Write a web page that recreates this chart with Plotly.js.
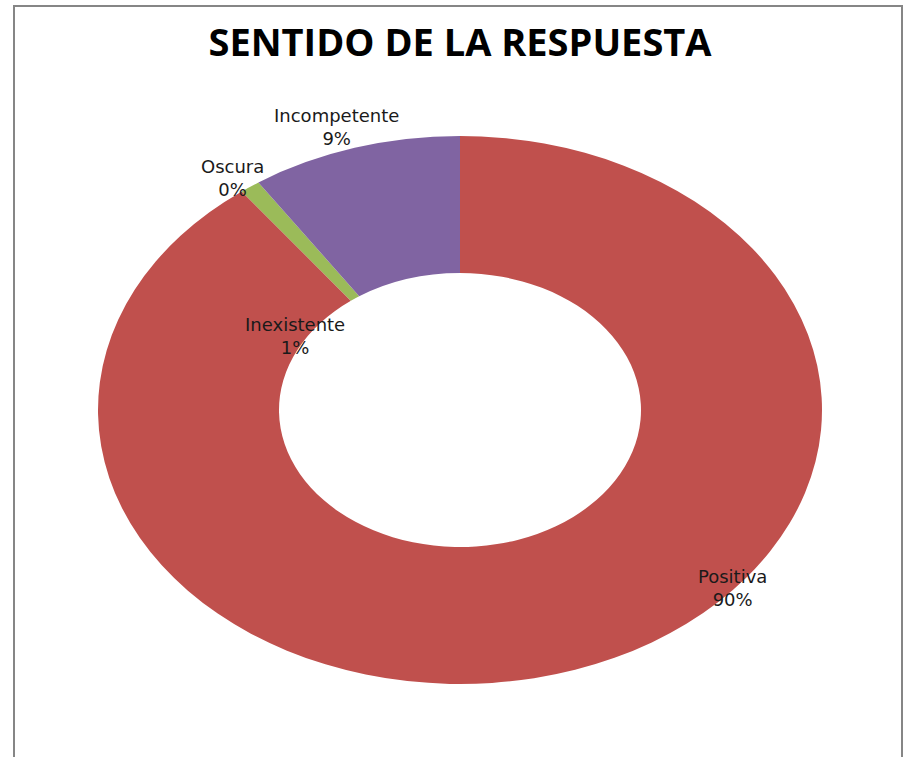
<!DOCTYPE html>
<html>
<head>
<meta charset="utf-8">
<script src="https://cdn.plot.ly/plotly-3.0.1.min.js"></script>
<style>
  html, body { margin: 0; padding: 0; background: #ffffff; }
  #chart { width: 908px; height: 757px; }
</style>
</head>
<body>
<div id="chart"></div>
<script>
// ---- data ----
const categories = ["Positiva", "Inexistente", "Oscura", "Incompetente"];
const values = [89.7, 0.9, 0.0, 9.4];
const chartTitle = "SENTIDO DE LA RESPUESTA";

// ---- styles / layout (not data) ----
const sliceColors = ["#C0504D", "#9BBB59", "#4BACC6", "#8064A2"];
const labelPos = [ [732, 588], [295, 336], [232, 178], [336, 127] ]; // px centres of label blocks
const W = 908, H = 757;
const stretchX = 362 / 274;   // reference donut is an ellipse

const total = values.reduce((a, b) => a + b, 0);
const annotations = categories.map((c, i) => ({
  text: c + "<br>" + Math.round(values[i] / total * 100) + "%",
  x: labelPos[i][0] / W, y: 1 - labelPos[i][1] / H,
  xref: "paper", yref: "paper", xanchor: "center", yanchor: "middle",
  showarrow: false, align: "center",
  font: { family: "DejaVu Sans", size: 18, color: "#1a1a1a" }
}));

const trace = {
  type: "pie",
  labels: categories,
  values: values,
  hole: 0.5,
  sort: false,
  direction: "clockwise",
  rotation: 0,
  textinfo: "none",
  hoverinfo: "label+percent",
  marker: { colors: sliceColors, line: { width: 0 } },
  domain: { x: [(460 - 274) / W, (460 + 274) / W], y: [(H - 684) / H, (H - 136) / H] },
  showlegend: false
};

const layout = {
  width: W, height: H,
  margin: { l: 0, r: 0, t: 0, b: 0 },
  paper_bgcolor: "#ffffff",
  title: { text: "<b>" + chartTitle + "</b>", x: 460 / W, xanchor: "center", y: 1 - 43 / H, yanchor: "middle",
           font: { family: "Open Sans", size: 38, color: "#000000" } },
  annotations: annotations,
  shapes: [{ type: "rect", xref: "paper", yref: "paper",
             x0: 14 / W, x1: 902 / W, y0: -0.05, y1: 1 - 6 / H,
             line: { color: "#868686", width: 2 }, fillcolor: "rgba(0,0,0,0)" }]
};

Plotly.newPlot("chart", [trace], layout, { displayModeBar: false, staticPlot: true }).then(gd => {
  let cx = 460;
  try { if (gd.calcdata[0][0].cx) cx = gd.calcdata[0][0].cx; } catch (e) {}
  document.querySelectorAll(".pielayer path.surface").forEach(p => {
    p.setAttribute("transform", `translate(${cx},0) scale(${stretchX},1) translate(${-cx},0)`);
  });
});
</script>
</body>
</html>
